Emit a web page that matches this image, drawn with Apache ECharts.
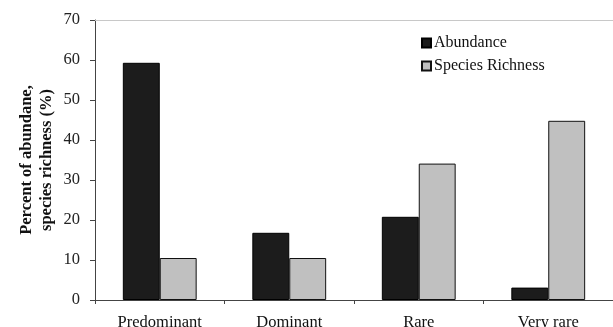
<!DOCTYPE html>
<html><head><meta charset="utf-8">
<script src="https://cdn.jsdelivr.net/npm/echarts@6/dist/echarts.min.js"></script>
<style>html,body{margin:0;padding:0;background:#fff}#c{width:613px;height:327px}</style>
</head><body><div id="c"></div>
<script>
var categories = ['Predominant', 'Dominant', 'Rare', 'Very rare'];
var abundance = [59.3, 16.8, 20.8, 3.1];
var richness = [10.5, 10.5, 34.1, 44.8];
var yTicks = {min: 0, max: 70, interval: 10};

var font = 'Liberation Serif';
var chart = echarts.init(document.getElementById('c'));
chart.setOption({
  animation: false,
  textStyle: {fontFamily: font},
  grid: {left: 95, right: 0, top: 20, bottom: 27, containLabel: false, outerBoundsMode: 'none'},
  legend: {
    orient: 'vertical', left: 416, top: 30, itemGap: 7,
    itemWidth: 9, itemHeight: 9, icon: 'rect',
    textStyle: {fontFamily: font, fontSize: 16, color: '#111', padding: [0, 0, 0, -2]},
    data: ['Abundance', 'Species Richness']
  },
  xAxis: [{
    type: 'category', data: categories,
    axisLine: {lineStyle: {color: '#444', width: 1}},
    axisTick: {show: true, length: 4, lineStyle: {color: '#444'}},
    axisLabel: {color: '#111', fontSize: 16.5, margin: 14, fontFamily: font, interval: 0}
  }, {
    type: 'category', data: categories, position: 'top',
    axisLine: {lineStyle: {color: '#c8c8c8', width: 1}},
    axisTick: {show: false}, axisLabel: {show: false}
  }],
  yAxis: {
    type: 'value', min: yTicks.min, max: yTicks.max, interval: yTicks.interval,
    name: 'Percent of abundane,\nspecies richness (%)',
    nameLocation: 'middle', nameGap: 38, nameRotate: 90, nameMoveOverlap: false,
    nameTextStyle: {fontFamily: font, fontSize: 16.5, fontWeight: 'bold', color: '#111', lineHeight: 20},
    axisLine: {show: true, lineStyle: {color: '#444', width: 1}},
    axisTick: {show: true, length: 5, lineStyle: {color: '#444'}},
    axisLabel: {color: '#222', fontSize: 16.5, margin: 15, fontFamily: font},
    splitLine: {show: false}
  },
  series: [{
    name: 'Abundance', type: 'bar', data: abundance,
    barGap: '0%', barCategoryGap: '43%',
    itemStyle: {color: '#1c1c1c', borderColor: '#000', borderWidth: 1}
  }, {
    name: 'Species Richness', type: 'bar', data: richness,
    itemStyle: {color: '#c0c0c0', borderColor: '#111', borderWidth: 1}
  }]
});
</script></body></html>
